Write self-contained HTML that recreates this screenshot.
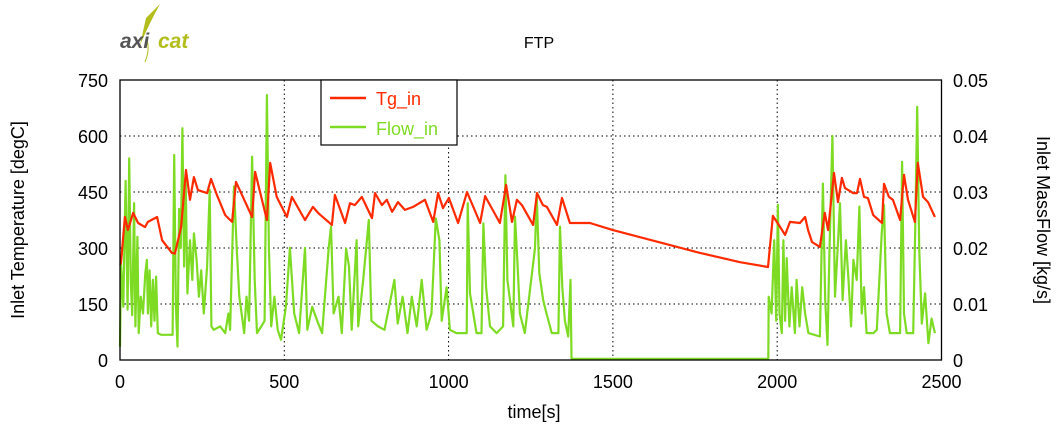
<!DOCTYPE html>
<html><head><meta charset="utf-8"><style>
body{margin:0;background:#fff;}
svg{display:block;font-family:"Liberation Sans",sans-serif;}
</style></head><body>
<svg id="chart" width="1062" height="440" viewBox="0 0 1062 440">
<g>
<path d="M160 4 Q150 22 140 45 L146 18 Z" fill="#b3bd1c"/>
<path d="M147 40 Q150 50 145 62" stroke="#b3bd1c" stroke-width="1" fill="none"/>
<text x="120" y="48" font-size="21" font-weight="bold" font-style="italic" fill="#555">axi</text>
<text x="158" y="48" font-size="21" font-weight="bold" font-style="italic" fill="#b3bd1c">cat</text>
</g>
<text x="539" y="48" font-size="16" text-anchor="middle">FTP</text>
<g id="grid"></g>
<g id="series"></g>
<rect x="120" y="80" width="821.5" height="280" fill="none" stroke="#000" stroke-width="1.3"/>
<g id="ticks" font-size="18"></g>
<text x="534" y="418" font-size="18" text-anchor="middle">time[s]</text>
<text transform="translate(24,220) rotate(-90)" font-size="18" text-anchor="middle">Inlet Temperature [degC]</text>
<text transform="translate(1037,220) rotate(90)" font-size="18" text-anchor="middle">Inlet MassFlow [kg/s]</text>
<g>
<rect x="321" y="80" width="136" height="65" fill="#fff" stroke="#000" stroke-width="1.2"/>
<line x1="330" y1="98" x2="366" y2="98" stroke="#ff2a00" stroke-width="2.5"/>
<text x="376" y="105" font-size="18" fill="#ff2a00">Tg_in</text>
<line x1="330" y1="127" x2="366" y2="127" stroke="#7edb24" stroke-width="2.5"/>
<text x="376" y="135" font-size="18" fill="#7edb24">Flow_in</text>
</g>
</svg>
<script>
const xTicks=[0,500,1000,1500,2000,2500];
const yTicks=[0,150,300,450,600,750];
const y2Ticks=["0","0.01","0.02","0.03","0.04","0.05"];
const tgTime=[0,3,15,24,40,55,76,85,113,128,158,167,186,201,213,225,237,265,277,295,320,341,353,374,402,411,447,457,477,508,523,563,587,603,645,654,685,700,715,736,767,776,797,812,828,846,867,892,928,953,968,983,1001,1029,1056,1096,1111,1156,1175,1193,1208,1223,1257,1269,1287,1299,1330,1345,1369,1430,1500,1765,1887,1972,1987,2009,2024,2039,2069,2085,2094,2106,2130,2145,2155,2173,2185,2197,2206,2231,2243,2252,2264,2276,2292,2319,2325,2340,2352,2374,2386,2398,2419,2428,2444,2459,2480];
const tgValue=[255,260,383,348,394,367,356,370,383,321,287,285,356,509,429,490,455,447,485,442,388,370,477,437,383,504,375,528,437,383,437,375,410,394,362,442,367,420,415,437,380,447,415,429,397,423,402,410,429,370,447,407,434,367,450,367,439,367,469,370,429,415,362,447,415,410,362,434,367,367,348,287,262,249,386,356,335,370,367,383,348,316,303,394,348,501,423,488,461,447,447,485,437,434,388,367,472,437,429,375,496,429,370,528,437,423,383];
const flowTime=[0,3,10,17,23,28,33,37,43,47,53,57,63,70,77,82,85,90,95,100,105,110,115,125,160,165,170,175,180,185,190,195,200,205,213,220,225,233,240,247,255,265,273,278,285,305,320,330,335,347,355,363,370,378,385,393,402,410,417,430,440,447,453,460,470,480,490,505,517,530,545,563,570,585,600,615,635,642,650,665,675,688,697,705,720,725,740,757,765,785,805,835,845,860,875,888,903,918,933,948,961,972,979,994,1004,1024,1055,1058,1065,1085,1100,1106,1114,1126,1146,1166,1173,1179,1197,1202,1209,1217,1232,1263,1268,1276,1288,1298,1314,1334,1339,1346,1354,1364,1371,1374,1973,1974,1983,1991,1997,2002,2007,2014,2019,2024,2029,2037,2044,2054,2059,2068,2076,2085,2095,2130,2139,2146,2153,2159,2168,2176,2184,2191,2199,2209,2217,2225,2232,2242,2250,2257,2264,2272,2293,2303,2318,2325,2333,2343,2374,2380,2386,2394,2414,2420,2426,2432,2440,2450,2460,2470,2480];
const flowValue=[0.0024,0.0173,0.0095,0.032,0.009,0.036,0.014,0.008,0.028,0.006,0.022,0.0048,0.0113,0.0083,0.0155,0.0179,0.0083,0.016,0.006,0.0143,0.007,0.0149,0.0048,0.0045,0.0045,0.0366,0.0095,0.0024,0.027,0.02,0.0414,0.0167,0.032,0.0119,0.0214,0.0143,0.0226,0.0179,0.0113,0.016,0.0083,0.0167,0.0304,0.006,0.0054,0.006,0.0048,0.0083,0.0054,0.031,0.02,0.0113,0.0083,0.0048,0.0113,0.007,0.0363,0.0143,0.0048,0.006,0.007,0.0473,0.02,0.006,0.0113,0.0054,0.0036,0.0095,0.02,0.0083,0.0048,0.02,0.0054,0.0095,0.007,0.0048,0.02,0.0238,0.0083,0.0113,0.0048,0.0199,0.0167,0.0054,0.0214,0.006,0.0143,0.025,0.007,0.006,0.0054,0.0143,0.0065,0.0113,0.0048,0.0113,0.006,0.0143,0.0054,0.0083,0.0253,0.0214,0.007,0.013,0.0054,0.0048,0.0048,0.028,0.0119,0.0048,0.0048,0.0244,0.013,0.006,0.0048,0.006,0.033,0.0143,0.006,0.0256,0.0179,0.0083,0.0048,0.02,0.0295,0.0155,0.0107,0.0083,0.0048,0.0048,0.0238,0.013,0.007,0.0042,0.0143,0.0002,0.0002,0.0113,0.0083,0.0214,0.007,0.0277,0.0083,0.0048,0.0214,0.007,0.0182,0.006,0.013,0.0048,0.0143,0.006,0.013,0.0083,0.0048,0.0042,0.0315,0.0107,0.0027,0.019,0.04,0.0113,0.02,0.028,0.0107,0.0214,0.0143,0.006,0.0179,0.0143,0.0274,0.0083,0.013,0.0048,0.0048,0.0054,0.0226,0.0277,0.0083,0.0048,0.0048,0.0354,0.0083,0.0048,0.0048,0.0232,0.0452,0.02,0.0065,0.0119,0.003,0.0074,0.0048];

const X0=120,X1=941.5,Y0=360,Y1=80;
const xs=t=>X0+t/2500*(X1-X0);
const ys=v=>Y0-v/750*(Y0-Y1);
const ys2=v=>Y0-v/0.05*(Y0-Y1);
const NS='http://www.w3.org/2000/svg';
function mk(tag,attrs,parent){const e=document.createElementNS(NS,tag);for(const k in attrs)e.setAttribute(k,attrs[k]);parent.appendChild(e);return e;}
const grid=document.getElementById('grid'),ticks=document.getElementById('ticks'),series=document.getElementById('series');
xTicks.forEach((t,i)=>{
  if(i>0&&i<xTicks.length-1){const l=mk('line',{x1:xs(t),x2:xs(t),y1:Y1,y2:Y0,stroke:'#000','stroke-width':1,'stroke-dasharray':'1.5,3'},grid);
  
  }
  const tx=mk('text',{x:xs(t),y:388,'text-anchor':'middle'},ticks);tx.textContent=t;
  
  
});
yTicks.forEach((v,i)=>{
  if(i>0&&i<yTicks.length-1){const l=mk('line',{x1:X0,x2:X1,y1:ys(v),y2:ys(v),stroke:'#000','stroke-width':1,'stroke-dasharray':'1.5,3'},grid);
  
  }
  const tx=mk('text',{x:108,y:ys(v)+7,'text-anchor':'end'},ticks);tx.textContent=v;
  
  
});
y2Ticks.forEach((s,i)=>{
  const tx=mk('text',{x:953,y:ys2(parseFloat(s))+7,'text-anchor':'start'},ticks);tx.textContent=s;
  
  
});
const pf=mk('polyline',{points:flowTime.map((t,i)=>xs(t).toFixed(1)+','+ys2(flowValue[i]).toFixed(1)).join(' '),fill:'none',stroke:'#7edb24','stroke-width':2.2,'stroke-linejoin':'round'},series);


const pt=mk('polyline',{points:tgTime.map((t,i)=>xs(t).toFixed(1)+','+ys(tgValue[i]).toFixed(1)).join(' '),fill:'none',stroke:'#ff2a00','stroke-width':2.2,'stroke-linejoin':'round'},series);


</script>
</body></html>
